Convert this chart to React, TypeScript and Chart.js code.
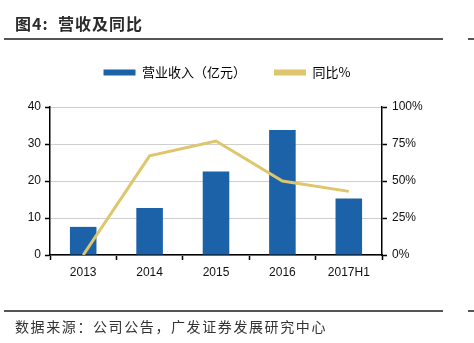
import React, { useEffect, useRef } from "react";
import { Chart, registerables, layouts } from "chart.js";

Chart.register(...registerables);

const categories = ["2013", "2014", "2015", "2016", "2017H1"];
const revenue = [7.6, 12.7, 22.6, 33.8, 15.3];
const yoy = [0, 67, 77, 50, 43];
const leftTicks = [0, 10, 20, 30, 40];
const rightTicks = [0, 25, 50, 75, 100];

const BAR = "#1C62A8";
const LINE = "#DDC66B";
const TICK_FONT = { family: "'Liberation Sans', Arial, sans-serif", size: 12 };

const spacerPlugin = {
  id: "legendSpacer",
  beforeInit(chart: any) {
    const h = 18;
    const box: any = {
      position: "top",
      weight: 1,
      fullSize: true,
      options: {},
      top: 0,
      left: 0,
      right: 0,
      bottom: 0,
      width: 0,
      height: h,
      isHorizontal: () => true,
      update(maxW: number) {
        box.width = maxW;
        box.height = h;
        return { width: maxW, height: h };
      },
      draw() {},
    };
    layouts.addBox(chart, box);
  },
};

export default function App() {
  const ref = useRef<HTMLCanvasElement | null>(null);

  useEffect(() => {
    document.body.style.margin = "0";
    const ctx = ref.current!;
    const chart = new Chart(ctx, {
      data: {
        labels: categories,
        datasets: [
          {
            type: "bar",
            label: "营业收入（亿元）",
            data: revenue,
            backgroundColor: BAR,
            yAxisID: "y",
            barPercentage: 0.8,
            categoryPercentage: 0.5,
            order: 2,
          },
          {
            type: "line",
            label: "同比%",
            data: yoy,
            borderColor: LINE,
            backgroundColor: LINE,
            borderWidth: 3,
            pointRadius: 0,
            tension: 0,
            yAxisID: "y1",
            order: 1,
          },
        ],
      } as any,
      plugins: [spacerPlugin],
      options: {
        animation: false,
        responsive: false,
        maintainAspectRatio: false,
        layout: { padding: { left: 0, right: 20, top: 38, bottom: 58 } },
        plugins: {
          tooltip: { enabled: false },
          legend: {
            position: "top",
            labels: {
              boxWidth: 32,
              boxHeight: 6,
              padding: 28,
              color: "#333",
              font: { family: "'Noto Sans CJK SC', sans-serif", size: 13 },
              generateLabels: (c: any) =>
                c.data.datasets.map((d: any, i: number) => ({
                  text: d.label,
                  fillStyle: d.type === "line" ? LINE : BAR,
                  strokeStyle: d.type === "line" ? LINE : BAR,
                  lineWidth: 0,
                  datasetIndex: i,
                  hidden: false,
                })),
            },
          },
        },
        scales: {
          x: {
            offset: true,
            grid: {
              drawOnChartArea: false,
              offset: true,
              tickLength: 5,
              tickColor: "#000",
              tickWidth: 1.5,
            },
            border: { color: "#000", width: 1.5 },
            ticks: { color: "#111", font: TICK_FONT, padding: 5 },
            afterFit: (s: any) => {
              s.height = 30;
            },
          },
          y: {
            position: "left",
            min: 0,
            max: 40,
            afterBuildTicks: (s: any) => {
              s.ticks = leftTicks.map((v) => ({ value: v }));
            },
            grid: {
              color: "#cfcfcf",
              lineWidth: 1,
              tickLength: 5,
              tickColor: "#000",
              tickWidth: 1.5,
            },
            border: { color: "#000", width: 1.5 },
            ticks: { color: "#111", font: TICK_FONT, padding: 4 },
            afterFit: (s: any) => {
              s.width = 50;
            },
          },
          y1: {
            position: "right",
            min: 0,
            max: 100,
            afterBuildTicks: (s: any) => {
              s.ticks = rightTicks.map((v) => ({ value: v }));
            },
            grid: {
              drawOnChartArea: false,
              tickLength: 5,
              tickColor: "#000",
              tickWidth: 1.5,
            },
            border: { color: "#000", width: 1.5 },
            ticks: {
              color: "#111",
              font: TICK_FONT,
              padding: 5,
              callback: (v: any) => v + "%",
            },
            afterFit: (s: any) => {
              s.width = 72;
            },
          },
        },
      } as any,
    });
    return () => chart.destroy();
  }, []);

  const cjk = "'Noto Sans CJK SC', sans-serif";
  return (
    <div style={{ position: "relative", width: 474, height: 343, background: "#fff", overflow: "hidden" }}>
      <canvas ref={ref} width={474} height={343} style={{ position: "absolute", left: 0, top: 0, width: 474, height: 343 }} />
      <div
        style={{
          position: "absolute",
          left: 15,
          top: 12,
          fontFamily: cjk,
          fontWeight: 700,
          fontSize: 16,
          lineHeight: "22px",
          color: "#2b2b2b",
          letterSpacing: 1,
          whiteSpace: "nowrap",
        }}
      >
        图4:&nbsp;&nbsp;营收及同比
      </div>
      <div style={{ position: "absolute", left: 4, top: 38, width: 439, height: 1.5, background: "#555" }} />
      <div style={{ position: "absolute", left: 468, top: 38, width: 6, height: 1.5, background: "#555" }} />
      <div style={{ position: "absolute", left: 4, top: 310, width: 439, height: 1.5, background: "#555" }} />
      <div style={{ position: "absolute", left: 468, top: 310, width: 6, height: 1.5, background: "#555" }} />
      <div
        style={{
          position: "absolute",
          left: 15,
          top: 316,
          fontFamily: cjk,
          fontSize: 14,
          lineHeight: "20px",
          color: "#333",
          letterSpacing: 1.6,
          whiteSpace: "nowrap",
        }}
      >
        数据来源：公司公告，广发证券发展研究中心
      </div>
    </div>
  );
}
